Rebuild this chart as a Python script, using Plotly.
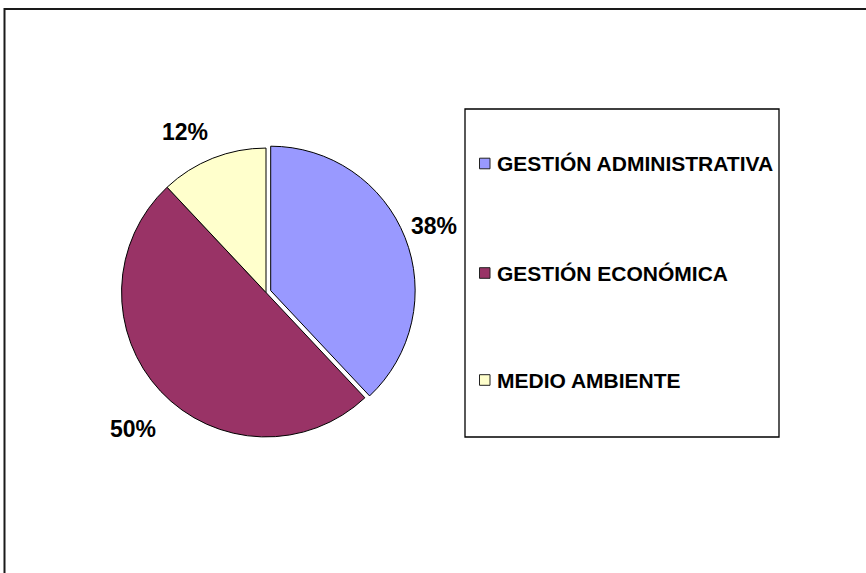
import plotly.graph_objects as go

# Distribución por área
categories = ["GESTIÓN ADMINISTRATIVA", "GESTIÓN ECONÓMICA", "MEDIO AMBIENTE"]
values = [38, 50, 12]
colors = ["#9999FF", "#993366", "#FFFFCC"]
pulls = [0.035, 0, 0]

W, H = 866, 573


def px(x):
    return x / W


def py(y):
    return 1 - y / H


# pie box (pixels): centre and half-size of the domain square
cx, cy, half = 266, 292.5, 149.5

fig = go.Figure(
    go.Pie(
        labels=categories,
        values=values,
        sort=False,
        direction="clockwise",
        rotation=0,
        pull=pulls,
        marker=dict(colors=colors, line=dict(color="#000000", width=1)),
        textinfo="none",
        hoverinfo="label+percent",
        showlegend=False,
        domain=dict(x=[px(cx - half), px(cx + half)], y=[py(cy + half), py(cy - half)]),
    )
)

total = sum(values)
pct_text = [f"{round(v / total * 100)}%" for v in values]

# outside percentage labels (pixel positions)
label_pos = [(434, 226), (133, 429), (185, 132)]
annotations = []
for t, (x, y) in zip(pct_text, label_pos):
    annotations.append(
        dict(
            x=px(x), y=py(y), xref="paper", yref="paper", text=f"<b>{t}</b>",
            showarrow=False, xanchor="center", yanchor="middle",
            font=dict(family="Liberation Sans, Arial, sans-serif", size=23, color="#000000"),
        )
    )

shapes = [
    # chart area frame
    dict(type="rect", xref="paper", yref="paper", x0=px(4.5), x1=px(880), y0=py(590), y1=py(9),
         line=dict(color="#1a1a1a", width=2), fillcolor="rgba(0,0,0,0)", layer="below"),
    # legend frame
    dict(type="rect", xref="paper", yref="paper", x0=px(465), x1=px(779), y0=py(437), y1=py(109),
         line=dict(color="#000000", width=1.3), fillcolor="#FFFFFF", layer="below"),
]

# legend entries
legend_y = [163.5, 273, 380]
for name, col, y in zip(categories, colors, legend_y):
    shapes.append(
        dict(type="rect", xref="paper", yref="paper", x0=px(479.5), x1=px(490), y0=py(y + 5.3), y1=py(y - 5.3),
             line=dict(color="#222222", width=1), fillcolor=col)
    )
    annotations.append(
        dict(
            x=px(495), y=py(y + 0.5), xref="paper", yref="paper", text=f"<b>{name}</b>",
            showarrow=False, xanchor="left", yanchor="middle",
            font=dict(family="Liberation Sans, Arial, sans-serif", size=21, color="#000000"),
        )
    )

fig.update_layout(
    width=W,
    height=H,
    autosize=False,
    margin=dict(l=0, r=0, t=0, b=0),
    paper_bgcolor="#FFFFFF",
    plot_bgcolor="#FFFFFF",
    shapes=shapes,
    annotations=annotations,
)

fig.write_html("out.html")
